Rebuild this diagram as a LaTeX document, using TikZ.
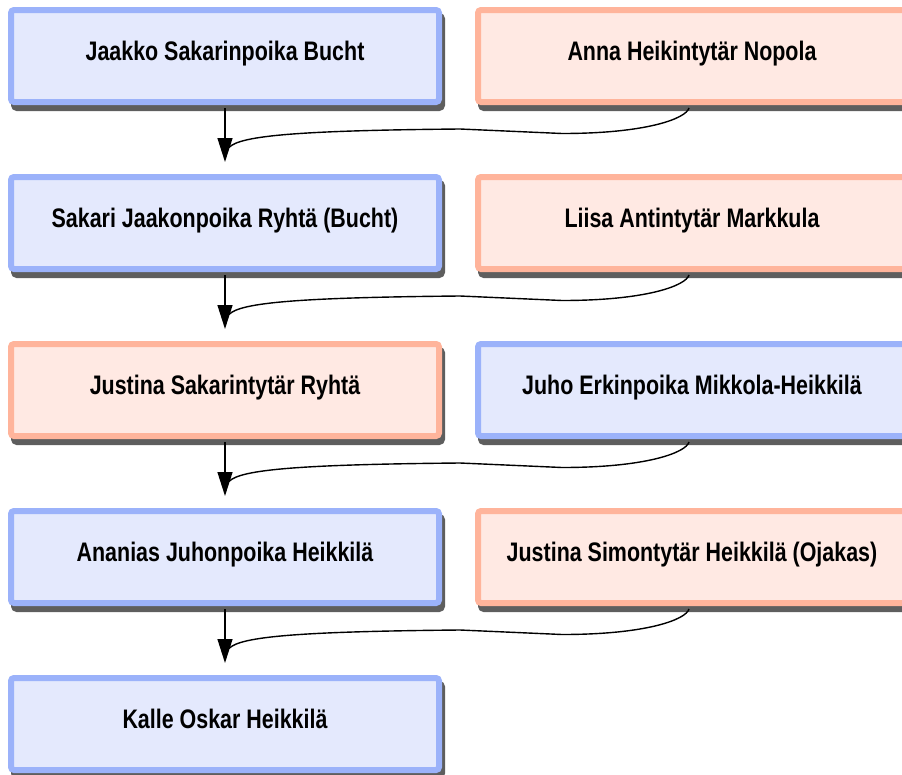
\documentclass[tikz,border=0pt]{standalone}
\usepackage{fontspec}
\setmainfont{Liberation Sans}[FakeStretch=0.8]
\usetikzlibrary{arrows.meta,shadows,calc}
\definecolor{bborder}{HTML}{9BB2FA}
\definecolor{bfill}{HTML}{E4E9FD}
\definecolor{oborder}{HTML}{FFB49B}
\definecolor{ofill}{HTML}{FFE9E3}
\definecolor{shadowc}{HTML}{5E5E5E}
\begin{document}
\begin{tikzpicture}[x=1pt,y=-1pt,
  person/.style={rectangle, rounded corners=3pt, line width=6pt,
    minimum width=428pt, minimum height=92pt, inner sep=0pt,
    text height=19pt, text depth=10pt, text=black,
    font=\fontsize{26.8}{30}\selectfont\bfseries,
    drop shadow={shadow xshift=3pt, shadow yshift=-6pt, fill=shadowc,
      draw=shadowc, line width=6pt, opacity=1, rounded corners=3pt}},
  male/.style={person, draw=bborder, fill=bfill},
  female/.style={person, draw=oborder, fill=ofill},
  conn/.style={line width=1.4pt, black},
  arr/.style={conn, -{Triangle[length=24pt,width=15pt]}}]
\useasboundingbox (0,0) rectangle (902,774);
\clip (0,0) rectangle (902,774);
\node[male]   (L1) at (225,56)  {Jaakko Sakarinpoika Bucht};
\node[female] (R1) at (692,56)  {Anna Heikintytär Nopola};
\node[male]   (L2) at (225,223) {Sakari Jaakonpoika Ryhtä (Bucht)};
\node[female] (R2) at (692,223) {Liisa Antintytär Markkula};
\node[female] (L3) at (225,390) {Justina Sakarintytär Ryhtä};
\node[male]   (R3) at (692,390) {Juho Erkinpoika Mikkola-Heikkilä};
\node[male]   (L4) at (225,557) {Ananias Juhonpoika Heikkilä};
\node[female] (R4) at (692,557) {Justina Simontytär Heikkilä (Ojakas)};
\node[male]   (L5) at (225,724) {Kalle Oskar Heikkilä};
\foreach \a/\b/\c in {R1/L1/L2,R2/L2/L3,R3/L3/L4,R4/L4/L5}{
  \draw[arr] ($(\b.south)+(0,3)$) -- ($(\c.north)+(0,-12)$);
  \draw[conn] ($(\a.south)+(-3,3)$)
     .. controls ($(\a.south)+(-6,13.5)$) and ($(\a.south)+(-45,28.5)$) ..
     ($(\a.south)+(-130,28.5)$) -- ($(\c.north)+(235,-45)$)
     .. controls ($(\c.north)+(75,-43.5)$) and ($(\c.north)+(15,-38.5)$) ..
     ($(\c.north)+(4,-26.5)$);
}
\end{tikzpicture}
\end{document}
